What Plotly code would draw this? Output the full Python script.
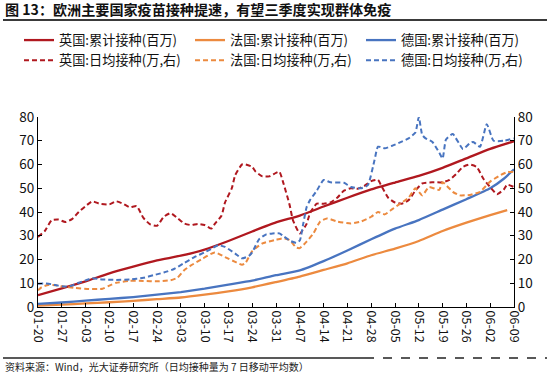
import plotly.graph_objects as go

# ---------------- data ----------------
week_labels = ["01-20", "01-27", "02-03", "02-10", "02-17", "02-24", "03-03", "03-10",
               "03-17", "03-24", "03-31", "04-07", "04-14", "04-21", "04-28", "05-05",
               "05-12", "05-19", "05-26", "06-02", "06-09"]
week_days = list(range(0, 141, 7))  # days since 01-20

# cumulative vaccinations (million), left axis
uk_cum_days = week_days
uk_cum = [5.0, 7.8, 10.8, 14.2, 17.0, 19.6, 21.6, 24.2, 27.8, 31.8, 35.6, 38.5, 42.3,
          46.0, 49.5, 52.4, 55.2, 58.6, 62.6, 66.6, 69.8]
fr_cum_days = week_days[:-1] + [138]
fr_cum = [0.6, 1.0, 1.5, 2.0, 2.6, 3.3, 4.0, 5.2, 6.6, 8.3, 10.5, 12.8, 15.6, 18.4,
          21.8, 24.6, 27.8, 32.0, 35.5, 38.7, 40.8]
de_cum_days = week_days[:-1] + [137, 140]
de_cum = [1.3, 1.9, 2.7, 3.4, 4.2, 5.2, 6.3, 7.7, 9.4, 11.1, 13.4, 15.4, 19.3, 23.8,
          28.5, 33.0, 36.6, 41.0, 45.4, 50.0, 54.0, 58.0]

# daily vaccinations, 7-day moving average (10k), right axis
uk_rate_days = [0, 2, 4, 6, 8, 10, 12, 14, 16, 18, 21, 23, 25, 27, 29, 31, 33, 35, 37, 39,
                41, 43, 45, 47, 49, 51, 52, 54, 55, 57, 58, 60, 61, 63, 64, 66, 68, 70, 71,
                72, 74, 75, 77, 79, 80, 82, 84, 86, 88, 90, 92, 94, 96, 98, 100, 101, 103,
                105, 107, 109, 111, 113, 116, 119, 121, 123, 125, 127, 129, 131, 133, 135,
                137, 138, 140]
uk_rate = [29.5, 32.0, 36.5, 36.8, 35.8, 37.0, 40.0, 42.5, 44.5, 43.5, 43.2, 44.5, 43.5,
           42.0, 42.5, 37.5, 34.8, 34.2, 38.0, 39.5, 37.5, 35.2, 34.5, 35.0, 34.5, 33.0,
           35.0, 38.5, 44.0, 50.0, 55.5, 60.0, 60.0, 59.0, 57.0, 55.0, 55.0, 56.5, 57.0,
           53.0, 43.0, 36.5, 31.0, 35.0, 39.5, 43.5, 43.5, 44.0, 46.0, 49.0, 50.0, 49.8,
           51.0, 53.0, 53.5, 51.0, 46.0, 44.0, 43.5, 45.0, 49.0, 52.0, 52.5, 52.5, 53.5,
           56.0, 59.0, 60.0, 59.0, 54.0, 50.5, 47.5, 49.5, 51.5, 50.5]

fr_rate_days = [0, 1, 3, 5, 7, 11, 15, 19, 21, 23, 27, 31, 35, 39, 41, 43, 45, 48, 52, 55,
                58, 60, 61, 63, 66, 70, 72, 74, 76, 77, 79, 81, 83, 85, 88, 92, 95, 98, 100,
                102, 104, 106, 109, 111, 113, 115, 118, 119, 122, 124, 127, 130, 133, 136,
                138, 140]
fr_rate = [7.0, 8.3, 9.3, 9.2, 8.7, 8.0, 7.6, 7.7, 9.0, 10.2, 11.0, 11.0, 10.8, 11.3,
           12.3, 15.5, 17.5, 20.0, 23.0, 21.0, 19.0, 17.8, 18.5, 23.5, 26.8, 28.3, 28.9,
           28.2, 25.0, 24.8, 27.5, 31.0, 36.0, 37.3, 36.0, 35.2, 36.0, 38.0, 40.0, 39.0,
           41.0, 43.0, 46.0, 50.0, 47.0, 50.5, 49.3, 52.5, 48.5, 47.0, 47.2, 48.5, 52.8,
           55.5, 56.8, 57.0]

de_rate_days = [0, 2, 4, 6, 8, 10, 12, 14, 16, 19, 23, 27, 31, 34, 37, 40, 43, 46, 49, 51,
                53, 55, 58, 60, 62, 63, 65, 67, 69, 71, 72, 74, 76, 77, 78, 79, 80, 82, 84,
                86, 90, 92, 95, 97, 99, 100, 102, 104, 106, 109, 111, 112, 113, 114, 116,
                118, 119, 120, 122, 125, 127, 128, 130, 132, 134, 137, 140]
de_rate = [9.8, 9.9, 9.6, 9.0, 8.6, 9.0, 10.2, 11.2, 12.1, 11.6, 11.4, 11.6, 12.3, 13.4,
           14.5, 16.0, 18.5, 21.0, 23.0, 24.5, 26.0, 25.3, 22.5, 20.5, 21.5, 23.0, 28.5,
           30.5, 31.0, 31.0, 30.0, 28.0, 27.0, 28.0, 35.0, 42.0, 45.0, 49.0, 53.5, 52.5,
           52.3, 50.5, 50.0, 51.3, 62.0, 67.5, 66.8, 67.8, 69.0, 71.0, 73.5, 80.0, 72.5,
           71.0, 69.5, 65.0, 62.5, 70.5, 72.8, 66.5, 69.0, 69.5, 67.5, 77.0, 70.0, 70.0,
           71.0]

series_names = ["英国:累计接种(百万)", "法国:累计接种(百万)", "德国:累计接种(百万)",
                "英国:日均接种(万,右)", "法国:日均接种(万,右)", "德国:日均接种(万,右)"]

title_text = "图 13：欧洲主要国家疫苗接种提速，有望三季度实现群体免疫"
source_text = "资料来源：Wind，光大证券研究所（日均接种量为 7 日移动平均数）"

# ---------------- style ----------------
RED = "#B0181F"
ORANGE = "#EC8A3F"
BLUE = "#4874C0"
FONT = "Noto Sans CJK SC, Noto Sans, sans-serif"
W, H = 550, 374
ML, MR, MT, MB = 38, 36, 117, 67
PW, PH = W - ML - MR, H - MT - MB


def px(xp):
    return (xp - ML) / PW


def py(yp):
    return (H - MB - yp) / PH


fig = go.Figure()
solid = [(uk_cum_days, uk_cum, RED), (fr_cum_days, fr_cum, ORANGE), (de_cum_days, de_cum, BLUE)]
dashed = [(uk_rate_days, uk_rate, RED), (fr_rate_days, fr_rate, ORANGE), (de_rate_days, de_rate, BLUE)]
for i, (xs, ys, c) in enumerate(solid):
    fig.add_trace(go.Scatter(x=xs, y=ys, name=series_names[i], mode="lines",
                             line=dict(color=c, width=2.3, shape="spline", smoothing=0.5)))
for i, (xs, ys, c) in enumerate(dashed):
    fig.add_trace(go.Scatter(x=xs, y=ys, name=series_names[3 + i], mode="lines", yaxis="y2",
                             line=dict(color=c, width=2, dash="5px,3px", shape="spline",
                                       smoothing=0.5)))

axis_common = dict(range=[0, 80], dtick=10, ticks="inside", ticklen=4, tickcolor="#000",
                   showline=True, linecolor="#000", linewidth=1, showgrid=False,
                   zeroline=False, tickfont=dict(size=13.5, color="#111", family=FONT))

fig.update_layout(
    width=W, height=H,
    margin=dict(l=ML, r=MR, t=MT, b=MB, pad=0, autoexpand=False),
    paper_bgcolor="white", plot_bgcolor="white",
    font=dict(family=FONT, color="#111"),
    showlegend=True,
    title=dict(text=title_text, xref="container", yref="container", x=5 / W, xanchor="left",
               y=1 - 10 / H, yanchor="middle",
               font=dict(size=14.1, family=FONT, color="#111", weight=600)),
    legend=dict(orientation="h", xref="paper", yref="paper", x=px(19), xanchor="left",
                y=py(25), yanchor="top", entrywidth=126, entrywidthmode="pixels",
                font=dict(size=13.2, family=FONT, color="#111"),
                tracegroupgap=0, bgcolor="rgba(0,0,0,0)"),
    xaxis=dict(range=[0, 140], tickvals=week_days, ticktext=week_labels, tickangle=90,
               ticks="inside", ticklen=4, tickcolor="#000", showline=True, linecolor="#000",
               linewidth=1, showgrid=False, zeroline=False,
               tickfont=dict(size=12.5, color="#111", family=FONT)),
    yaxis=dict(side="left", **axis_common),
    yaxis2=dict(side="right", overlaying="y", **axis_common),
    shapes=[
        dict(type="line", xref="paper", yref="paper", x0=px(3), x1=px(547), y0=py(20), y1=py(20),
             line=dict(color="#3a3a3a", width=2)),
        dict(type="line", xref="paper", yref="paper", x0=px(3), x1=px(365), y0=py(358), y1=py(358),
             line=dict(color="#222", width=1.3)),
        dict(type="line", xref="paper", yref="paper", x0=px(365), x1=px(547), y0=py(358), y1=py(358),
             line=dict(color="#222", width=1.3, dash="dash")),
    ],
    annotations=[
        dict(text=source_text, xref="paper", yref="paper", x=px(3), y=py(366), xanchor="left",
             yanchor="middle", showarrow=False, font=dict(size=10, family=FONT, color="#222")),
    ],
)

fig.write_html("out.html", config={"displayModeBar": False},
               post_script="document.body.style.margin='0px';")
